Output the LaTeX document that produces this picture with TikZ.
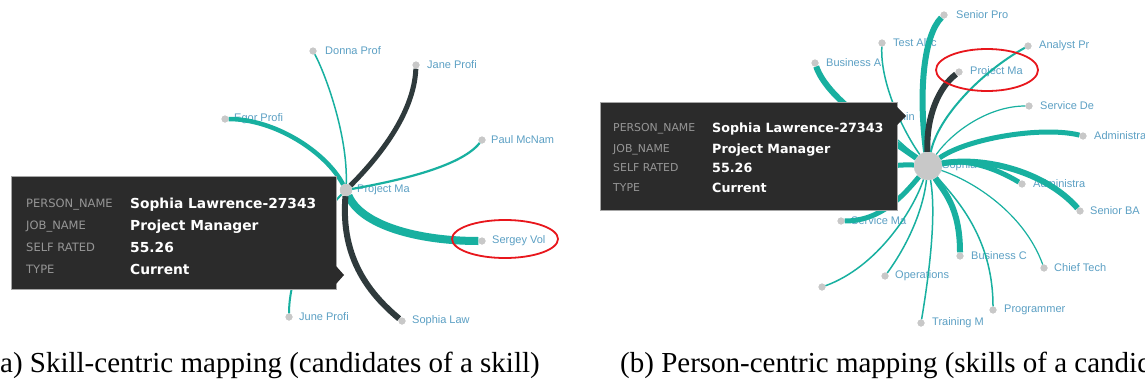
\documentclass[tikz,border=0pt]{standalone}
\usepackage{fontspec}
\setmainfont{Liberation Serif}
\newfontfamily\lblfont{Liberation Sans}
\newfontfamily\tipfont{DejaVu Sans}
\definecolor{tealc}{RGB}{24,176,160}
\definecolor{darkc}{RGB}{47,58,60}
\definecolor{lblc}{RGB}{92,160,196}
\definecolor{dotc}{RGB}{200,200,200}
\definecolor{tipbg}{RGB}{43,43,43}
\definecolor{tipkc}{RGB}{150,150,150}
\definecolor{redc}{RGB}{232,22,28}
\begin{document}
\begin{tikzpicture}[x=1pt,y=-1pt,
  gdot/.style={circle, fill=dotc, inner sep=0pt, minimum size=7pt},
  hub/.style={circle, fill=dotc, draw=dotc!80!white, inner sep=0pt},
  lbl/.style={anchor=west, text=lblc, inner sep=0pt, font=\lblfont\fontsize{11}{13}\selectfont},
  tl/.style={draw=tealc},
  dk/.style={draw=darkc},
  tipbox/.style={fill=tipbg, draw=gray!70, line width=0.6pt, inner sep=0pt},
  tipk/.style={anchor=base west, inner sep=0pt, text=tipkc},
  tipv/.style={anchor=base west, inner sep=0pt, text=white},
  redring/.style={draw=redc, line width=1.8pt},
  captxt/.style={anchor=base west, inner sep=0pt, font=\fontsize{29}{33}\selectfont}
]
\useasboundingbox (0,0) rectangle (1145,383);
\clip (0,0) rectangle (1145,383);
\fill[white] (0,0) rectangle (1145,383);

% ================= LEFT PANEL =================
\node[hub, minimum size=12pt] (cL) at (346,190) {};
\node[lbl] (tProjL) at (357,190) {Project Ma};
\node[lbl] (tDonna) at (325,51) {Donna Prof};
\node[lbl] (tJane) at (427,65) {Jane Profi};
\node[lbl] (tEgor) at (234,119) {Egor Profi};
\node[lbl] (tPaul) at (491,140) {Paul McNam};
\node[lbl] (tSergey) at (492,241) {Sergey Vol};
\node[lbl] (tJune) at (299,317) {June Profi};
\node[lbl] (tSophL) at (412,321) {Sophia Law};

\node[gdot] (dDonna) at (313,51) {};
\node[gdot] (dJane) at (416,65) {};
\node[gdot] (dEgor) at (225,119) {};
\node[gdot] (dPaul) at (482,140) {};
\node[gdot] (dSergey) at (482,241) {};
\node[gdot] (dJune) at (289,317) {};
\node[gdot] (dSophL) at (402,321) {};

\draw[tl, line width=1.5pt] (cL) .. controls +(2,-55) and +(12,22) .. (dDonna);
\draw[dk, line width=5pt] (cL) .. controls +(30,-30) and +(-2,50) .. (dJane);
\draw[tl, line width=4.5pt] (cL) .. controls +(-20,-38) and +(50,0) .. (dEgor);
\draw[tl, line width=2.2pt] (cL) .. controls +(45,-8) and +(-22,28) .. (dPaul);
\draw[tl, line width=8pt] (cL) .. controls +(15,35) and +(-65,0) .. (dSergey);
\draw[dk, line width=6pt] (cL) .. controls +(-6,70) and +(-30,-25) .. (dSophL);
\draw[tl, line width=2pt] (cL) .. controls +(-25,25) and +(0,-50) .. (dJune);

\foreach \n in {dDonna,dJane,dEgor,dPaul,dSergey,dJune,dSophL}
  \fill[dotc] (\n) circle (3.5pt);
\fill[dotc] (cL) circle (6pt);

% tooltip left
\node[tipbox, minimum width=325pt, minimum height=113pt] (tipL) at (173.5,232.5) {};
\fill[tipbg] (336,266) -- (344,275) -- (336,284) -- cycle;
\begin{scope}[every node/.append style={font=\tipfont\fontsize{11.5}{13}\selectfont}]
\node[tipk] (kL1) at (26,207) {PERSON\_NAME};
\node[tipk] (kL2) at (26,229) {JOB\_NAME};
\node[tipk] (kL3) at (26,251) {SELF RATED};
\node[tipk] (kL4) at (26,273) {TYPE};
\end{scope}
\begin{scope}[every node/.append style={font=\tipfont\bfseries\fontsize{13.8}{16}\selectfont}]
\node[tipv] (vL1) at (130,208) {Sophia Lawrence-27343};
\node[tipv] (vL2) at (130,230) {Project Manager};
\node[tipv] (vL3) at (130,252) {55.26};
\node[tipv] (vL4) at (130,274) {Current};
\end{scope}

\draw[redring] (505,239) ellipse [x radius=53, y radius=19];

% ================= RIGHT PANEL =================
\node[hub, minimum size=28pt] (cR) at (928,166) {};
\node[lbl] (tSophR) at (942,166) {Sophia Law};
\node[lbl] (tSenPro) at (956,15) {Senior Pro};
\node[lbl] (tTest) at (893,43) {Test Allic};
\node[lbl] (tBusA) at (826,63) {Business A};
\node[lbl] (tAnal) at (1039,46) {Analyst Pr};
\node[lbl] (tProjR) at (970,72) {Project Ma};
\node[lbl] (tServDe) at (1040,106) {Service De};
\node[lbl] (tAdm1) at (1094,136) {Administra};
\node[lbl] (tAdm2) at (1033,184) {Administra};
\node[lbl] (tSenBA) at (1090,211) {Senior BA};
\node[lbl] (tChief) at (1054,268) {Chief Tech};
\node[lbl] (tBusC) at (971,256) {Business C};
\node[lbl] (tProg) at (1004,310) {Programmer};
\node[lbl] (tTrain) at (932,323) {Training M};
\node[lbl] (tOper) at (895,276) {Operations};
\node[lbl] (tServMa) at (851,221) {Service Ma};
\node[lbl] (tDataAdm) at (857,117) {Data Admin};

\node[gdot] (dSenPro) at (944,15) {};
\node[gdot] (dTest) at (882,43) {};
\node[gdot] (dBusA) at (815,63) {};
\node[gdot] (dAnal) at (1028,46) {};
\node[gdot] (dProjR) at (959,72) {};
\node[gdot] (dServDe) at (1029,106) {};
\node[gdot] (dAdm1) at (1083,136) {};
\node[gdot] (dAdm2) at (1022,184) {};
\node[gdot] (dSenBA) at (1080,211) {};
\node[gdot] (dChief) at (1044,268) {};
\node[gdot] (dBusC) at (960,256) {};
\node[gdot] (dProg) at (993,310) {};
\node[gdot] (dTrain) at (921,323) {};
\node[gdot] (dOper) at (885,276) {};
\node[gdot] (dUnn) at (822,287) {};
\node[gdot] (dServMa) at (841,221) {};
\node[gdot] (dDataAdm) at (847,117) {};
\node[gdot] (dHid) at (850,168) {};

\draw[tl, line width=6pt] (cR) .. controls +(-10,-75) and +(-20,20) .. (dSenPro);
\draw[tl, line width=1.5pt] (cR) .. controls +(-25,-35) and +(-2,40) .. (dTest);
\draw[tl, line width=6pt] (cR) .. controls +(-50,-35) and +(12,35) .. (dBusA);
\draw[dk, line width=6pt] (cR) .. controls +(-2,-50) and +(-20,15) .. (dProjR);
\draw[tl, line width=2pt] (cR) .. controls +(10,-50) and +(-45,25) .. (dAnal);
\draw[tl, line width=1.2pt] (cR) .. controls +(25,-35) and +(-40,0) .. (dServDe);
\draw[tl, line width=5pt] (cR) .. controls +(40,-28) and +(-40,-10) .. (dAdm1);
\draw[tl, line width=5pt] (cR) .. controls +(40,-8) and +(-25,-15) .. (dAdm2);
\draw[tl, line width=6pt] (cR) .. controls +(55,-10) and +(-35,-40) .. (dSenBA);
\draw[tl, line width=1.2pt] (cR) .. controls +(45,15) and +(-20,-55) .. (dChief);
\draw[tl, line width=6pt] (cR) .. controls +(15,25) and +(0,-50) .. (dBusC);
\draw[tl, line width=1.5pt] (cR) .. controls +(25,30) and +(0,-75) .. (dProg);
\draw[tl, line width=1.5pt] (cR) .. controls +(8,45) and +(10,-60) .. (dTrain);
\draw[tl, line width=1.5pt] (cR) .. controls +(-5,45) and +(22,-30) .. (dOper);
\draw[tl, line width=1.5pt] (cR) .. controls +(-15,45) and +(55,-20) .. (dUnn);
\draw[tl, line width=5pt] (cR) .. controls +(-25,30) and +(40,0) .. (dServMa);
\draw[tl, line width=1.2pt] (cR) .. controls +(-30,-25) and +(30,0) .. (dDataAdm);
\draw[tl, line width=5pt] (cR) .. controls +(-30,-2) and +(30,0) .. (dHid);

\foreach \n in {dSenPro,dTest,dBusA,dAnal,dProjR,dServDe,dAdm1,dAdm2,dSenBA,dChief,dBusC,dProg,dTrain,dOper,dUnn,dServMa}
  \fill[dotc] (\n) circle (3.5pt);

% tooltip right
\node[tipbox, minimum width=297pt, minimum height=108pt] (tipR) at (748.5,156) {};
\fill[tipbg] (897,107) -- (906,116) -- (897,125) -- cycle;
\begin{scope}[every node/.append style={font=\tipfont\fontsize{10.9}{13}\selectfont}]
\node[tipk] (kR1) at (613,131) {PERSON\_NAME};
\node[tipk] (kR2) at (613,152) {JOB\_NAME};
\node[tipk] (kR3) at (613,171) {SELF RATED};
\node[tipk] (kR4) at (613,191) {TYPE};
\end{scope}
\begin{scope}[every node/.append style={font=\tipfont\bfseries\fontsize{12.7}{15}\selectfont}]
\node[tipv] (vR1) at (712,132) {Sophia Lawrence-27343};
\node[tipv] (vR2) at (712,153) {Project Manager};
\node[tipv] (vR3) at (712,172) {55.26};
\node[tipv] (vR4) at (712,192) {Current};
\end{scope}

\draw[redring] (987,70) ellipse [x radius=51, y radius=21];

% ================= CAPTIONS =================
\node[captxt] (capA) at (-9.7,372) {(a) Skill-centric mapping (candidates of a skill)};
\node[captxt] (capB) at (620,372) {(b) Person-centric mapping (skills of a candidate)};
\end{tikzpicture}
\end{document}
